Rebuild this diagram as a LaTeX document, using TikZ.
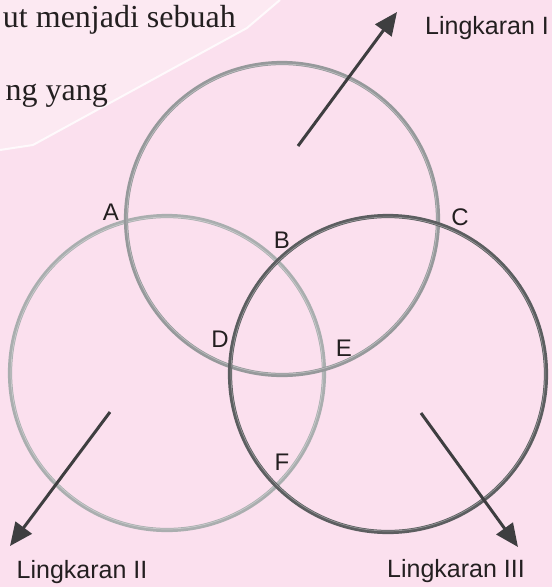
\documentclass[tikz,border=0pt]{standalone}
\usepackage{fontspec}
\setmainfont{Liberation Serif}
\setsansfont{Liberation Sans}
\usetikzlibrary{arrows.meta}
\definecolor{fondo}{RGB}{251,224,238}
\definecolor{fondoclaro}{RGB}{252,233,242}
\definecolor{aroI}{RGB}{150,153,155}
\definecolor{aroII}{RGB}{170,174,175}
\definecolor{aroIII}{RGB}{92,94,96}
\definecolor{flecha}{RGB}{62,62,64}
\definecolor{tinta}{RGB}{35,31,32}

\begin{document}
\begin{tikzpicture}[x=1pt, y=-1pt,
    punto/.style={font=\sffamily\fontsize{24}{28}\selectfont, text=tinta, inner sep=0pt},
    nombre/.style={font=\sffamily\fontsize{25}{30}\selectfont, text=tinta, inner sep=0pt},
    libro/.style={font=\rmfamily\fontsize{32}{38}\selectfont, text=tinta, inner sep=0pt, anchor=base east},
    flechita/.style={draw=flecha, line width=3pt, -{Triangle[length=23pt, width=20pt]}},
    aro/.style={line width=4.2pt},
    brillo/.style={white, line width=0.7pt, opacity=0.35}]
    \useasboundingbox (0,0) rectangle (552,587);
    \fill[fondo] (0,0) rectangle (552,587);

    % Recorte de la pagina: zona clara con texto
    \fill[fondoclaro] (0,0) -- (280,0) -- (247,28) -- (33,145) -- (0,150) -- cycle;
    \draw[white, line width=2pt, opacity=0.8] (280,0) -- (247,28) -- (33,145) -- (0,150);
    \node[libro] (textoA) at (236,27) {ut menjadi sebuah};
    \node[libro] (textoB) at (108,100) {ng yang};

    % Centros de las tres circunferencias
    \coordinate (cI) at (282,219);
    \coordinate (cII) at (167,373);
    \coordinate (cIII) at (388,374);

    % Lingkaran II (la mas clara), luego I y III
    \draw[aro, aroII] (cII) circle (157);
    \draw[brillo] (cII) circle (156);
    \draw[aro, aroI] (cI) circle (156);
    \draw[brillo] (cI) circle (155);
    \draw[aro, aroIII] (cIII) circle (158);
    \draw[brillo] (cIII) circle (157);

    % Puntos de corte
    \node[punto] (A) at (111,212) {A};
    \node[punto] (B) at (282,240) {B};
    \node[punto] (C) at (460,217) {C};
    \node[punto] (D) at (220,339) {D};
    \node[punto] (E) at (344,348) {E};
    \node[punto] (F) at (282,462) {F};

    % Flechas y nombres
    \coordinate (inicioI) at (298,146);
    \coordinate (puntaI) at (397,12);
    \coordinate (inicioII) at (110,412);
    \coordinate (puntaII) at (10,546);
    \coordinate (inicioIII) at (421,413);
    \coordinate (puntaIII) at (518,547);
    \draw[flechita] (inicioI) -- (puntaI);
    \draw[flechita] (inicioII) -- (puntaII);
    \draw[flechita] (inicioIII) -- (puntaIII);
    \node[nombre] (nomI) at (487,28) {Lingkaran I};
    \node[nombre] (nomII) at (82,572) {Lingkaran II};
    \node[nombre] (nomIII) at (456,571) {Lingkaran III};
\end{tikzpicture}
\end{document}
